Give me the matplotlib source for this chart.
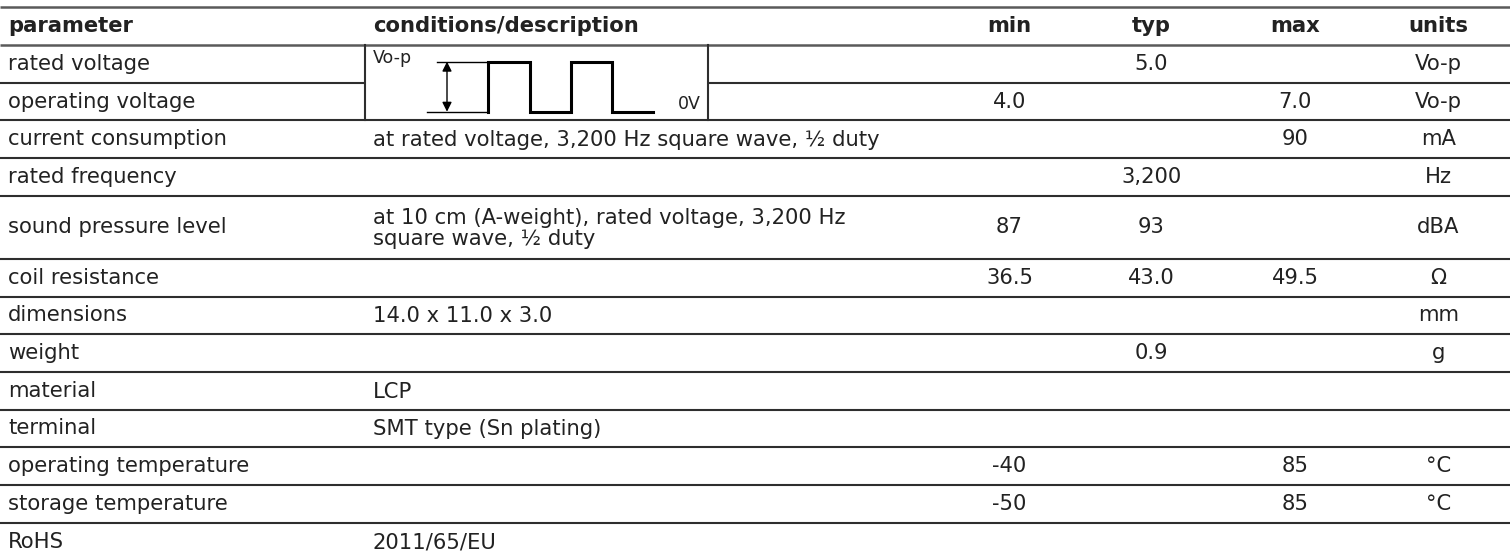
import matplotlib
matplotlib.use("Agg")
import matplotlib.pyplot as plt

# ============================================================================
# TABLE DATA
# ============================================================================

headers = ["parameter", "conditions/description", "min", "typ", "max", "units"]

parameters = ["rated voltage", "operating voltage", "current consumption",
              "rated frequency", "sound pressure level", "coil resistance",
              "dimensions", "weight", "material", "terminal",
              "operating temperature", "storage temperature", "RoHS"]

conditions = ["", "", "at rated voltage, 3,200 Hz square wave, \u00bd duty",
              "", "at 10 cm (A-weight), rated voltage, 3,200 Hz\nsquare wave, \u00bd duty",
              "", "14.0 x 11.0 x 3.0", "", "LCP", "SMT type (Sn plating)",
              "", "", "2011/65/EU"]

min_vals = ["", "4.0", "", "", "87", "36.5", "", "", "", "", "-40", "-50", ""]
typ_vals = ["5.0", "", "", "3,200", "93", "43.0", "", "0.9", "", "", "", "", ""]
max_vals = ["", "7.0", "90", "", "", "49.5", "", "", "", "", "85", "85", ""]
units = ["Vo-p", "Vo-p", "mA", "Hz", "dBA", "\u03a9", "mm", "g", "", "", "\u00b0C", "\u00b0C", ""]

# square wave sketch in the merged cell: 1 = high, 0 = low between edges
wave_levels = [1, 0, 1, 0]

# ============================================================================
# Layout (pixel coordinates)
# ============================================================================

W, H = 1510, 558
top = 7.3
header_h = 37.7
row_h = [37.7] * len(parameters)
row_h[4] = 63.0

text_color = '#222222'
line_color = '#2e2e2e'
head_line_color = '#5a5a5a'
fs = 15.2

# column boundaries
col_edges = [0, 365, 939, 1080, 1223, 1367, W]
diag_right = 708

fig = plt.figure(figsize=(W / 100, H / 100), dpi=100)
ax = fig.add_axes([0, 0, 1, 1])
ax.set_xlim(0, W)
ax.set_ylim(H, 0)
ax.axis('off')


def hline(yv, color, lw, skip_diagram=False):
    if skip_diagram:
        ax.plot([0, 365], [yv, yv], color=color, lw=lw, solid_capstyle='butt')
        ax.plot([diag_right, W], [yv, yv], color=color, lw=lw, solid_capstyle='butt')
    else:
        ax.plot([0, W], [yv, yv], color=color, lw=lw, solid_capstyle='butt')


text_x = [8, 373]
centers = [(a + b) / 2 for a, b in zip(col_edges[2:-1], col_edges[3:])]

# header
hline(top, head_line_color, 1.8)
hy = top + header_h / 2
ax.text(text_x[0], hy, headers[0], fontsize=fs, fontweight='bold', color=text_color, va='center', ha='left')
ax.text(text_x[1], hy, headers[1], fontsize=fs, fontweight='bold', color=text_color, va='center', ha='left')
for cx, h in zip(centers, headers[2:]):
    ax.text(cx, hy, h, fontsize=fs, fontweight='bold', color=text_color, va='center', ha='center')
y = top + header_h
hline(y, head_line_color, 1.8)

# body rows
y0 = y
for i, p in enumerate(parameters):
    cy = y + row_h[i] / 2
    ax.text(text_x[0], cy, p, fontsize=fs, color=text_color, va='center', ha='left')
    if conditions[i]:
        ax.text(text_x[1], cy + 1, conditions[i], fontsize=fs, color=text_color,
                va='center', ha='left', linespacing=1.1)
    for cx, v in zip(centers, [min_vals[i], typ_vals[i], max_vals[i], units[i]]):
        if v:
            ax.text(cx, cy, v, fontsize=fs, color=text_color, va='center', ha='center')
    y += row_h[i]
    if i == len(parameters) - 1:
        break
    hline(y, line_color, 1.5, skip_diagram=(i == 0))

# merged diagram cell borders
y_cell_bot = y0 + row_h[0] + row_h[1]
for xv in [365, diag_right]:
    ax.plot([xv, xv], [y0, y_cell_bot], color=line_color, lw=1.5)

# square wave sketch
hi_y, lo_y = 61.7, 111.7
ax.text(373, 58, "Vo-p", fontsize=12.5, color=text_color, va='center', ha='left')
ax.text(701, 104, "0V", fontsize=12.5, color=text_color, va='center', ha='right')
ax.plot([437, 488], [hi_y, hi_y], color='black', lw=1)
ax.plot([427, 488], [lo_y, lo_y], color='black', lw=1)
ax.annotate('', xy=(447, hi_y), xytext=(447, lo_y),
            arrowprops=dict(arrowstyle='<|-|>', color='black', lw=1,
                            mutation_scale=14, shrinkA=0, shrinkB=0))
edges = [488, 530, 571, 612, 653]
lev = {1: hi_y, 0: lo_y}
px, py = [edges[0]], [lo_y]
for k, s in enumerate(wave_levels):
    px += [edges[k], edges[k + 1]]
    py += [lev[s], lev[s]]
    if k < len(wave_levels) - 1:
        px.append(edges[k + 1])
        py.append(lev[wave_levels[k + 1]])
px.append(edges[-1])
py.append(lo_y)
ax.plot(px, py, color='black', lw=2.2, solid_joinstyle='miter')

fig.savefig('out.png', dpi=100, facecolor='white')
